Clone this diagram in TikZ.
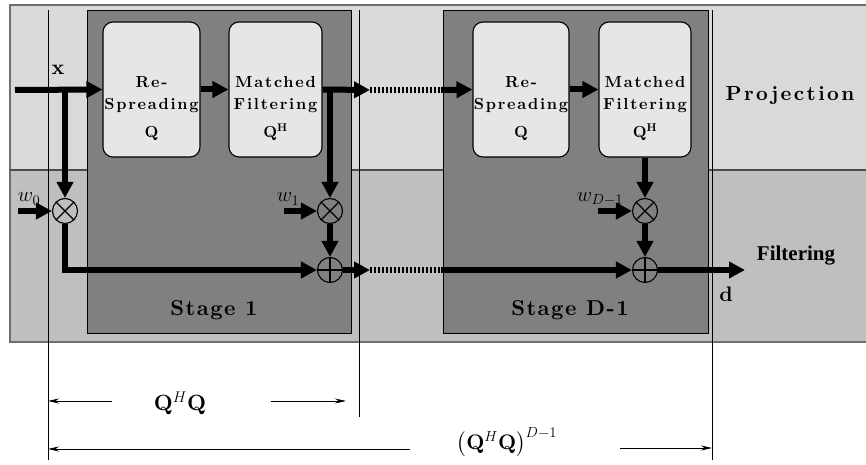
\RequirePackage{fix-cm}
\documentclass[tikz,border=0pt]{standalone}
\usepackage{fontspec}
\usepackage{amsmath}
\usetikzlibrary{arrows.meta}
\setmainfont{lmroman10-regular.otf}[BoldFont=lmroman10-bold.otf, ItalicFont=lmroman10-italic.otf, BoldItalicFont=lmroman10-bolditalic.otf]
\newfontfamily\cmbx{lmroman10-bold.otf}
\newfontfamily\timesfont{Liberation Serif}

\definecolor{bandtop}{HTML}{D9D9D9}
\definecolor{bandbot}{HTML}{BFBFBF}
\definecolor{bandedge}{HTML}{6E6E6E}
\definecolor{stagefill}{HTML}{808080}
\definecolor{blockfill}{HTML}{E6E6E6}

% bold caption font at a given size and letter spacing
\newcommand{\capfont}[3]{\fontsize{#1}{#2}\selectfont\cmbx\addfontfeatures{LetterSpace=#3}}

\tikzset{
  stagebox/.style={draw=black, line width=0.8pt, fill=stagefill, inner sep=0pt},
  block/.style={draw=black, line width=1.1pt, fill=blockfill, rounded corners=10pt, inner sep=0pt},
  blocktext/.style={align=center, inner sep=0pt, anchor=north, font=\capfont{16}{21.5}{11}},
  opnode/.style={circle, draw=black, line width=1.1pt, minimum size=25pt, inner sep=0pt},
  oplines/.style={line width=1.1pt},
  flow/.style={line width=6pt, -{Triangle[length=16pt,width=16pt]}},
  flowdots/.style={line width=6pt, dash pattern=on 2pt off 2pt},
  guide/.style={line width=0.8pt},
  dimarrow/.style={line width=0.8pt, -{Stealth[length=11pt,width=5pt]}},
  stagelabel/.style={inner sep=0pt, font=\capfont{21.5}{25}{7}},
  mathlabel/.style={inner sep=0pt, font=\fontsize{22}{26}\selectfont},
}

\begin{document}
\begin{tikzpicture}[x=1pt, y=-1pt]
\useasboundingbox (0,0) rectangle (866,465);
\clip (0,0) rectangle (866,465);

% background bands
\fill[bandtop] (10,5) rectangle (880,170);
\fill[bandbot] (10,170) rectangle (880,342);
\draw[bandedge, line width=1.5pt] (880,5) -- (10,5) -- (10,342) -- (880,342);
\draw[black!70, line width=1.5pt] (10,170) -- (880,170);

% guide lines for the spans
\coordinate (g0t) at (48,10);   \coordinate (g0b) at (48,460);
\coordinate (g1t) at (359,10);  \coordinate (g1b) at (359,417);
\coordinate (g2t) at (712,10);  \coordinate (g2b) at (712,460);
\draw[guide] (g0t) -- (g0b);
\draw[guide] (g1t) -- (g1b);
\draw[guide] (g2t) -- (g2b);

% stage frames
\node[stagebox, minimum width=264pt, minimum height=323pt] (st1) at (219,171.5) {};
\node[stagebox, minimum width=265pt, minimum height=323pt] (st2) at (575.5,171.5) {};

% processing blocks
\node[block, minimum width=97pt, minimum height=135pt] (rs1) at (151.5,89.5) {};
\node[block, minimum width=93pt, minimum height=135pt] (mf1) at (275.5,89.5) {};
\node[block, minimum width=96pt, minimum height=135pt] (rs2) at (521,89.5) {};
\node[block, minimum width=92pt, minimum height=135pt] (mf2) at (645,89.5) {};

\node[blocktext] (rs1t) at (151.5,76.5) {Re-\\Spreading\\[7pt]$\mathbf{Q}$};
\node[blocktext] (mf1t) at (275.5,76.5) {Matched\\Filtering\\[7pt]$\mathbf{Q}^{\mathbf{H}}$};
\node[blocktext] (rs2t) at (521,76.5) {Re-\\Spreading\\[7pt]$\mathbf{Q}$};
\node[blocktext] (mf2t) at (645,76.5) {Matched\\Filtering\\[7pt]$\mathbf{Q}^{\mathbf{H}}$};

% multipliers and adders
\node[opnode] (m0) at (65,211) {};
\node[opnode] (m1) at (330,211) {};
\node[opnode] (m2) at (645,211) {};
\node[opnode] (a1) at (330,270) {};
\node[opnode] (a2) at (645,270) {};
\foreach \n in {m0,m1,m2}{
  \draw[oplines] (\n.45) -- (\n.225);
  \draw[oplines] (\n.135) -- (\n.315);
}
\foreach \n in {a1,a2}{
  \draw[oplines] (\n.north) -- (\n.south);
  \draw[oplines] (\n.west) -- (\n.east);
}

% signal path coordinates
\coordinate (xin) at (15,90);
\coordinate (tap0) at (65,90);
\coordinate (tap1) at (330,90);
\coordinate (p1) at (370,90);
\coordinate (p2) at (441,90);
\coordinate (s1) at (370,270);
\coordinate (s2) at (441,270);
\coordinate (dout) at (745,270);
\coordinate (w0s) at (18,211);
\coordinate (w1s) at (284,211);
\coordinate (w2s) at (598,211);

% projection path
\draw[flow] (xin) -- (rs1.west);
\draw[flow] (rs1.east) -- (mf1.west);
\draw[flow] (mf1.east) -- (p1);
\draw[flowdots] (p1) -- (p2);
\draw[flow] (p2) -- (rs2.west);
\draw[flow] (rs2.east) -- (mf2.west);

% taps into the multipliers
\draw[flow] (tap0) -- (m0.north);
\draw[flow] (tap1) -- (m1.north);
\draw[flow] (mf2.south) -- (m2.north);
\draw[flow] (w0s) -- (m0.west);
\draw[flow] (w1s) -- (m1.west);
\draw[flow] (w2s) -- (m2.west);

% filtering path
\draw[flow] (m0.south) |- (a1.west);
\draw[flow] (m1.south) -- (a1.north);
\draw[flow] (a1.east) -- (s1);
\draw[flowdots] (s1) -- (s2);
\draw[flow] (s2) -- (a2.west);
\draw[flow] (m2.south) -- (a2.north);
\draw[flow] (a2.east) -- (dout);

% signal labels
\node[inner sep=0pt, font=\fontsize{21}{23}\selectfont\cmbx] (xl) at (58,70) {x};
\node[inner sep=0pt, font=\fontsize{21}{23}\selectfont\cmbx] (dl) at (726,294) {d};
\node[inner sep=0pt, font=\fontsize{21}{23}\selectfont] (w0l) at (29,199) {$w_0$};
\node[inner sep=0pt, font=\fontsize{21}{23}\selectfont] (w1l) at (288,199) {$w_1$};
\node[inner sep=0pt, font=\fontsize{21}{23}\selectfont] (w2l) at (600,199) {$w_{D-1}$};

% band and stage captions
\node[inner sep=0pt, font=\capfont{20.4}{24}{12}] (proj) at (790,96) {Projection};
\node[inner sep=0pt, font=\fontsize{21}{23}\selectfont\timesfont\bfseries] (filt) at (796,256) {Filtering};
\node[stagelabel] (st1l) at (214,310) {Stage 1};
\node[stagelabel] (st2l) at (570,310) {Stage D-1};

% span markers
\coordinate (d1a) at (112,401); \coordinate (d1l) at (48,401);
\coordinate (d1b) at (271,401); \coordinate (d1r) at (346,401);
\coordinate (d2a) at (410,449); \coordinate (d2l) at (48,449);
\coordinate (d2b) at (620,448); \coordinate (d2r) at (712,448);
\draw[dimarrow] (d1a) -- (d1l);
\draw[dimarrow] (d1b) -- (d1r);
\draw[dimarrow] (d2a) -- (d2l);
\draw[dimarrow] (d2b) -- (d2r);
\node[mathlabel] (span1) at (180,403) {$\mathbf{Q}^H\mathbf{Q}$};
\node[mathlabel, font=\fontsize{21}{25}\selectfont] (span2) at (507,442) {$\left(\mathbf{Q}^H\mathbf{Q}\right)^{D-1}$};
\end{tikzpicture}
\end{document}
